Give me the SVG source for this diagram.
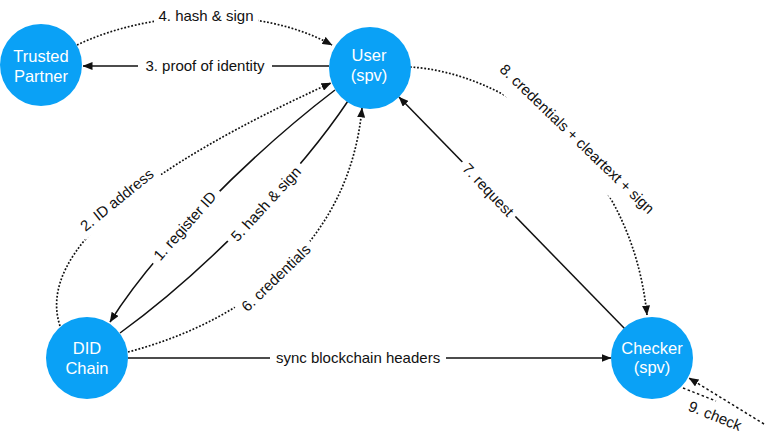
<svg xmlns="http://www.w3.org/2000/svg" width="766" height="441" viewBox="0 0 766 441">
<style>
.node circle{fill:#0AA1F6}
.node text{fill:#fff;font-family:"Liberation Sans",Arial,sans-serif;font-size:16.5px;text-anchor:middle}
.e{fill:none;stroke:#111;stroke-width:1.5}
.d{stroke-width:1.7;stroke-dasharray:1.8 1.8}
.lbl rect{fill:#fff}
.lbl text{fill:#111;font-family:"Liberation Sans",Arial,sans-serif;font-size:15px;text-anchor:middle}
</style>
<defs>
<marker id="arr" viewBox="0 0 10 8" refX="9.5" refY="4" markerWidth="10" markerHeight="8" markerUnits="userSpaceOnUse" orient="auto">
<path d="M0,0 L10,4 L0,8 z" fill="#111"/>
</marker>
</defs>
<rect width="766" height="441" fill="#fff"/>
<g id="connectors">
<path class="e d" d="M77,45 C150,10 260,5 332,45" marker-end="url(#arr)"/>
<path class="e" d="M329,66 L83,66" marker-end="url(#arr)"/>
<path class="e d" d="M60,326 C35,250 150,165 331,83" marker-end="url(#arr)"/>
<path class="e" d="M335,90 C250,155 155,250 110,322" marker-end="url(#arr)"/>
<path class="e" d="M120,333 C200,275 295,180 348,101"/>
<path class="e d" d="M128,352 C250,320 350,240 362,108" marker-end="url(#arr)"/>
<path class="e" d="M128,358 L611,358" marker-end="url(#arr)"/>
<path class="e" d="M625,329 L399,97" marker-end="url(#arr)"/>
<path class="e d" d="M410,67 C500,72 630,150 647,315" marker-end="url(#arr)"/>
<path class="e" d="M764,424 L689,378" stroke-width="2" stroke-dasharray="2.5 2.5" marker-end="url(#arr)"/>
<path class="e" d="M683,388 L716,401" stroke="#555" stroke-width="1.5" stroke-dasharray="2.5 2.5"/>
</g>
<g id="labels" class="lbl">
<g transform="translate(206,16)"><rect x="-52" y="-10" width="104" height="20"/><text x="0" y="5">4. hash &amp; sign</text></g>
<g transform="translate(205,66)"><rect x="-67" y="-10" width="134" height="20"/><text x="0" y="5">3. proof of identity</text></g>
<g transform="translate(117,200) rotate(-39)"><rect x="-50" y="-11" width="100" height="22"/><text x="0" y="5">2. ID address</text></g>
<g transform="translate(185,226) rotate(-48.5)"><rect x="-49" y="-11" width="98" height="22"/><text x="0" y="5">1. register ID</text></g>
<g transform="translate(266,204) rotate(-47.5)"><rect x="-53" y="-11" width="106" height="22"/><text x="0" y="5">5. hash &amp; sign</text></g>
<g transform="translate(276,278) rotate(-44)"><rect x="-50" y="-12" width="100" height="24"/><text x="0" y="5">6. credentials</text></g>
<g transform="translate(358,358)"><rect x="-88" y="-10" width="176" height="20"/><text x="0" y="5">sync blockchain headers</text></g>
<g transform="translate(488,190) rotate(46.5)"><rect x="-38" y="-10" width="76" height="20"/><text x="0" y="5">7. request</text></g>
<g transform="translate(577,139) rotate(44)"><rect x="-106" y="-13" width="212" height="32"/><text x="0" y="5">8. credentials + cleartext + sign</text></g>
<g transform="translate(715,416) rotate(22)"><text x="0" y="5">9. check</text></g>
</g>
<g id="trusted-partner" class="node"><circle cx="41" cy="65" r="41"/><text x="41" y="62">Trusted</text><text x="41" y="82">Partner</text></g>
<g id="user" class="node"><circle cx="370" cy="68" r="41"/><text x="369" y="61">User</text><text x="369" y="81">(spv)</text></g>
<g id="did-chain" class="node"><circle cx="87" cy="358" r="41"/><text x="87" y="354">DID</text><text x="87" y="374">Chain</text></g>
<g id="checker" class="node"><circle cx="652" cy="358" r="41"/><text x="652" y="354">Checker</text><text x="652" y="373">(spv)</text></g>
</svg>
